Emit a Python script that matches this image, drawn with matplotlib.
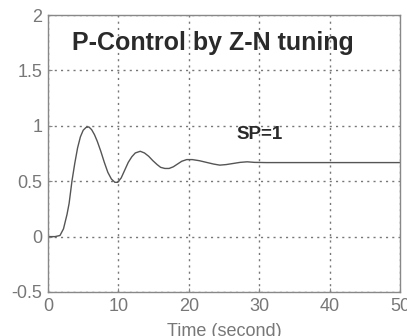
import matplotlib
matplotlib.use("Agg")
import matplotlib.pyplot as plt

t = [0, 1, 1.7, 2.2, 2.7, 3.0, 3.4, 3.8, 4.2, 4.6, 5.0, 5.4, 5.8, 6.2, 6.6, 7.0, 7.5, 8.0, 8.5, 9.0, 9.5, 9.9,
     10.4, 10.9, 11.4, 11.9, 12.4, 13.1, 13.7, 14.3, 14.9, 15.5, 16.0, 16.6, 17.2, 17.8, 18.4, 19.0, 19.7,
     20.5, 21.5, 22.5, 23.5, 24.4, 25.3, 26.3, 27.3, 28.3, 29.3, 31, 35, 40, 45, 50]
y = [0, 0, 0.01, 0.07, 0.2, 0.3, 0.5, 0.66, 0.8, 0.9, 0.96, 0.985, 0.99, 0.965, 0.92, 0.86, 0.77, 0.67, 0.58, 0.52, 0.49, 0.49,
     0.53, 0.6, 0.67, 0.72, 0.755, 0.77, 0.755, 0.725, 0.685, 0.65, 0.625, 0.615, 0.615, 0.63, 0.655, 0.68, 0.695,
     0.695, 0.685, 0.67, 0.655, 0.645, 0.65, 0.66, 0.67, 0.675, 0.67, 0.668, 0.668, 0.668, 0.668, 0.668]

xticks = [0, 10, 20, 30, 40, 50]
yticks = [-0.5, 0, 0.5, 1, 1.5, 2]
ytick_labels = ["-0.5", "0", "0.5", "1", "1.5", "2"]

plt.rcParams['font.family'] = ['Liberation Sans', 'DejaVu Sans']
fig = plt.figure(figsize=(4.07, 3.36), dpi=100)
ax = fig.add_axes([48/407, 1-292/336, 352/407, 277/336])
ax.plot(t, y, color='#555555', lw=1.0)
ax.set_xlim(0, 50)
ax.set_ylim(-0.5, 2)
ax.set_xticks(xticks)
ax.set_yticks(yticks)
ax.set_yticklabels(ytick_labels)
ax.grid(True, linestyle=(0, (1.5, 3)), color='#777777', lw=1.0)
for s in ax.spines.values():
    s.set_color('#888888')
    s.set_linewidth(1.0)
ax.tick_params(direction='in', length=3, colors='#888888', labelcolor='#777777', labelsize=13, pad=4)
ax.text(0.469, 0.874, "P-Control by Z-N tuning", transform=ax.transAxes, ha='center', va='baseline',
        fontsize=18, fontweight='bold', color='#2a2a2a')
ax.text(30, 0.88, "SP=1", ha='center', va='baseline', fontsize=13.5, fontweight='bold', color='#2a2a2a')
ax.set_xlabel("Time (second)", fontsize=13, color='#777777', labelpad=6)
fig.savefig("out.png", dpi=100)
